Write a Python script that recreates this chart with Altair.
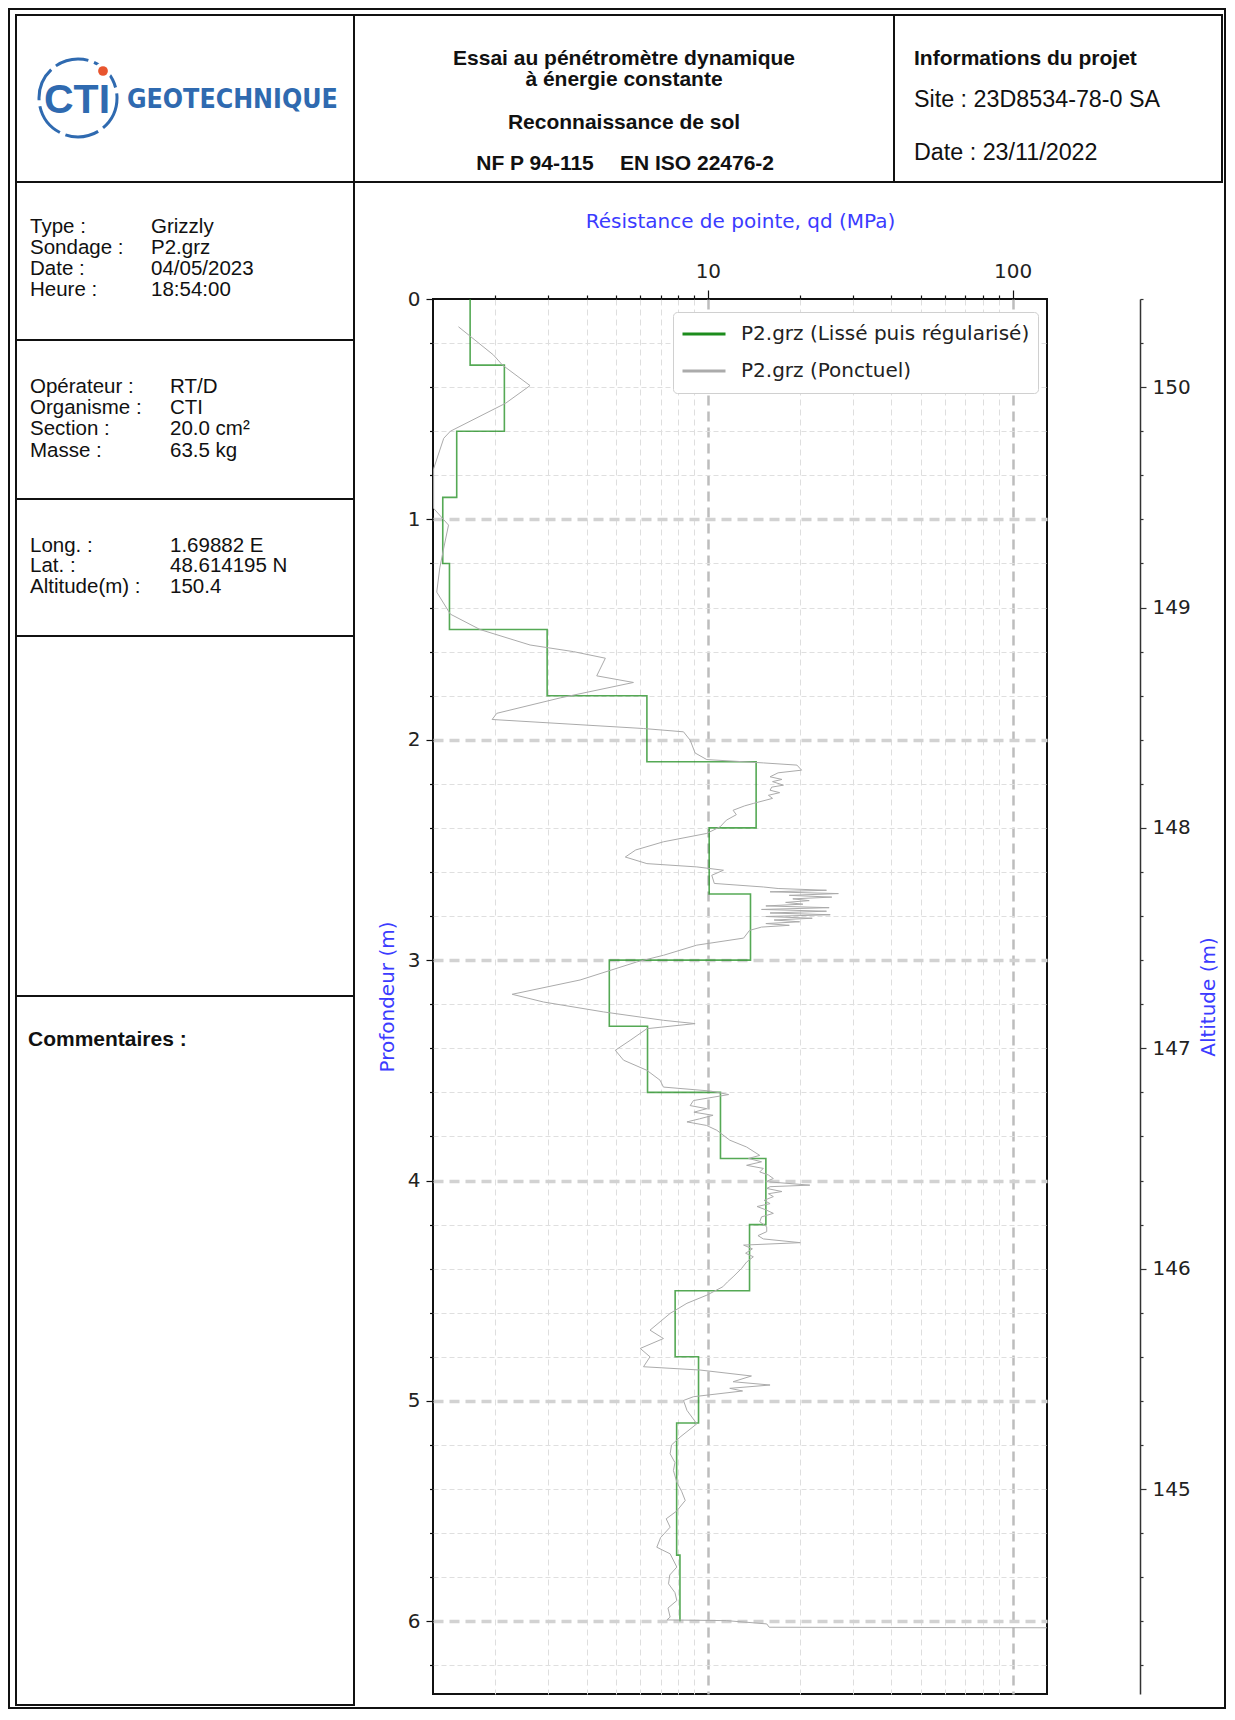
import altair as alt
import pandas as pd

# ------------------------------------------------------------------ data
SERIES_STEP = "P2.grz (Lissé puis régularisé)"
SERIES_PT = "P2.grz (Ponctuel)"

STEP_DEPTHS = [0.0, 0.3, 0.6, 0.9, 1.2, 1.5, 1.8, 2.1, 2.4, 2.7, 3.0, 3.3,
               3.6, 3.9, 4.2, 4.5, 4.8, 5.1, 5.7, 6.0]
STEP_QD = [1.66, 2.15, 1.50, 1.35, 1.42, 2.97, 6.31, 14.4, 10.1, 13.8, 4.75,
           6.34, 11.0, 15.5, 13.7, 7.81, 9.32, 7.9, 8.1]

PT_DEPTH = [0.126, 0.254, 0.300, 0.393, 0.473, 0.600, 0.632, 0.770, 0.950, 1.026,
            1.130, 1.220, 1.330, 1.430, 1.500, 1.570, 1.600, 1.630, 1.710, 1.740,
            1.810, 1.880, 1.908, 1.949, 1.964, 2.002, 2.060, 2.090, 2.105, 2.115,
            2.138, 2.150, 2.168, 2.180, 2.190, 2.206, 2.215, 2.229, 2.240, 2.252,
            2.266, 2.289, 2.300, 2.320, 2.340, 2.365, 2.395, 2.425, 2.463, 2.500,
            2.532, 2.562, 2.577, 2.592, 2.615, 2.652, 2.668, 2.675, 2.683, 2.690,
            2.698, 2.706, 2.714, 2.722, 2.730, 2.738, 2.746, 2.754, 2.762, 2.770,
            2.778, 2.786, 2.794, 2.802, 2.810, 2.818, 2.826, 2.834, 2.842, 2.850,
            2.865, 2.900, 2.932, 2.978, 3.008, 3.090, 3.155, 3.190, 3.235, 3.273,
            3.288, 3.311, 3.364, 3.409, 3.454, 3.500, 3.545, 3.576, 3.594, 3.610,
            3.637, 3.660, 3.674, 3.690, 3.704, 3.720, 3.734, 3.750, 3.772, 3.817,
            3.848, 3.886, 3.900, 3.915, 3.931, 3.945, 3.961, 3.975, 3.991, 4.005,
            4.021, 4.028, 4.036, 4.050, 4.060, 4.073, 4.090, 4.105, 4.118, 4.133,
            4.149, 4.165, 4.187, 4.210, 4.232, 4.250, 4.265, 4.282, 4.293, 4.310,
            4.330, 4.346, 4.370, 4.399, 4.437, 4.460, 4.482, 4.520, 4.557, 4.603,
            4.641, 4.679, 4.717, 4.762, 4.800, 4.845, 4.860, 4.887, 4.913, 4.928,
            4.943, 4.955, 4.981, 4.998, 5.043, 5.104, 5.164, 5.200, 5.240, 5.280,
            5.316, 5.369, 5.410, 5.452, 5.500, 5.535, 5.573, 5.620, 5.664, 5.694,
            5.754, 5.790, 5.830, 5.870, 5.906, 5.940, 5.981, 5.994, 5.997, 6.012,
            6.027, 6.030]
PT_QD = [1.52, 1.98, 2.12, 2.61, 2.17, 1.43, 1.36, 1.26, 1.26, 1.41,
         1.36, 1.32, 1.29, 1.43, 1.79, 2.61, 3.62, 4.61, 4.32, 5.70,
         3.28, 2.03, 1.96, 6.15, 8.32, 8.75, 9.08, 9.92, 15.2, 19.6,
         20.3, 17.0, 16.0, 17.5, 16.3, 17.7, 16.2, 16.0, 17.2, 15.8,
         16.3, 14.1, 13.2, 12.1, 12.4, 11.5, 10.97, 9.92, 7.15, 5.80,
         5.36, 6.31, 9.20, 11.25, 10.3, 10.5, 15.2, 17.0, 24.5, 16.0,
         26.8, 18.5, 25.5, 19.0, 21.5, 18.0, 20.5, 15.5, 25.0, 15.0,
         24.5, 16.0, 25.2, 15.5, 22.0, 16.5, 20.0, 15.5, 18.5, 15.0,
         13.7, 13.1, 9.2, 7.15, 5.85, 3.81, 2.28, 2.89, 4.55, 7.15,
         9.08, 6.31, 5.56, 4.97, 5.29, 6.31, 6.97, 7.15, 10.2, 11.7,
         8.97, 8.75, 9.92, 9.0, 10.4, 9.4, 8.54, 9.9, 10.7, 11.8,
         13.4, 14.8, 13.6, 15.0, 13.4, 15.2, 14.8, 15.8, 16.4, 15.5,
         21.6, 16.0, 15.6, 17.5, 15.8, 16.4, 15.3, 16.0, 14.5, 15.5,
         16.4, 15.0, 14.8, 15.6, 15.6, 14.6, 15.2, 20.1, 13.1, 14.0,
         13.3, 14.1, 13.4, 12.9, 12.1, 11.6, 11.2, 9.93, 8.54, 7.52,
         6.97, 6.46, 7.15, 6.00, 6.46, 6.15, 9.43, 13.9, 12.1, 16.0,
         11.8, 13.0, 8.97, 8.32, 8.54, 9.2, 8.11, 7.6, 7.52, 7.8,
         7.71, 7.91, 8.2, 8.43, 7.9, 7.3, 7.52, 7.0, 6.80, 7.52,
         7.91, 7.5, 7.43, 7.8, 7.91, 7.4, 7.52, 7.34, 11.5, 15.6,
         15.9, 200.0]

ALT_TOP = 150.4
DEPTH_MAX = 6.33
QD_DOMAIN = [1.254, 129.6]

X_TICKS = [2, 3, 4, 5, 6, 7, 8, 9, 10, 20, 30, 40, 50, 60, 70, 80, 90, 100]
DEPTH_TICKS = [round(0.2 * i, 1) for i in range(32)]
ALT_TICKS = [round(144.2 + 0.2 * i, 1) for i in range(32)]

INFO_1 = [("Type :", "Grizzly"), ("Sondage :", "P2.grz"),
          ("Date :", "04/05/2023"), ("Heure :", "18:54:00")]
INFO_2 = [("Opérateur :", "RT/D"), ("Organisme :", "CTI"),
          ("Section :", "20.0 cm²"), ("Masse :", "63.5 kg")]
INFO_3 = [("Long. :", "1.69882 E"), ("Lat. :", "48.614195 N"),
          ("Altitude(m) :", "150.4")]

# ------------------------------------------------------------------ tables
step_rows = []
for i, v in enumerate(STEP_QD):
    step_rows.append({"depth": STEP_DEPTHS[i], "qd": v, "i": 2 * i, "series": SERIES_STEP})
    step_rows.append({"depth": STEP_DEPTHS[i + 1], "qd": v, "i": 2 * i + 1, "series": SERIES_STEP})
step_df = pd.DataFrame(step_rows)
pt_df = pd.DataFrame({"depth": PT_DEPTH, "qd": PT_QD, "i": list(range(len(PT_DEPTH))),
                      "series": SERIES_PT})
alt_df = pd.DataFrame({"altitude": [ALT_TOP - DEPTH_MAX, ALT_TOP]})
DUMMY = pd.DataFrame({"k": [0]})

# ------------------------------------------------------------------ styles
BLUE = "#3b3bff"
DJ = "DejaVu Sans"
LS = "Liberation Sans"
PAGE_MARGIN = 8
OX, OY = 433, 299          # page position of the plot origin
W, H = 614, 1395
SVG_W, SVG_H = 1219, 1702
PAD = {"left": OX - PAGE_MARGIN, "top": OY - PAGE_MARGIN,
       "right": SVG_W - (OX - PAGE_MARGIN) - W,
       "bottom": SVG_H - (OY - PAGE_MARGIN) - H}

XMAJ = "datum.value == 10 || datum.value == 100"
YMAJ = "abs(datum.value - round(datum.value)) < 0.01"

color_scale = alt.Scale(domain=[SERIES_STEP, SERIES_PT], range=["#1c8c1c", "#ababab"])
x_scale = alt.Scale(type="log", domain=QD_DOMAIN, nice=False)
y_scale = alt.Scale(domain=[0, DEPTH_MAX], reverse=True, nice=False, zero=False)

x_axis = alt.Axis(
    orient="top", values=X_TICKS, format="d",
    labelExpr=f"({XMAJ}) ? datum.label : ''", labelOverlap=False, labelFlush=False,
    title="Résistance de pointe, qd (MPa)", titleColor=BLUE, titleFont=DJ,
    titleFontSize=20, titleFontWeight="normal", titlePadding=30,
    labelFont=DJ, labelFontSize=20, labelColor="#222", labelPadding=9,
    domain=False, tickColor="#111", tickWidth=1.2,
    tickSize={"condition": {"test": XMAJ, "value": 9}, "value": 4},
    grid=True,
    gridColor={"condition": {"test": XMAJ, "value": "#bdbdbd"}, "value": "#dedede"},
    gridDash={"condition": {"test": XMAJ, "value": [10, 6]}, "value": [6, 4]},
    gridWidth={"condition": {"test": XMAJ, "value": 2.5}, "value": 1},
)
y_axis = alt.Axis(
    orient="left", values=DEPTH_TICKS,
    labelExpr=f"({YMAJ}) ? format(datum.value, 'd') : ''", labelOverlap=False,
    labelFlush=False,
    title="Profondeur (m)", titleColor=BLUE, titleFont=DJ, titleFontSize=20,
    titleFontWeight="normal", titlePadding=10,
    labelFont=DJ, labelFontSize=20, labelColor="#222", labelPadding=6,
    domain=False, tickColor="#111", tickWidth=1.2,
    tickSize={"condition": {"test": YMAJ, "value": 7}, "value": 3.5},
    grid=True,
    gridOpacity={"condition": {"test": "datum.value == 0", "value": 0}, "value": 1},
    gridColor={"condition": {"test": YMAJ, "value": "#d2d2d2"}, "value": "#dfdfdf"},
    gridDash={"condition": {"test": YMAJ, "value": [10, 6]}, "value": [5, 3]},
    gridWidth={"condition": {"test": YMAJ, "value": 3.5}, "value": 1},
)
a_axis = alt.Axis(
    orient="right", offset=93, values=ALT_TICKS,
    labelExpr=f"({YMAJ}) ? format(datum.value, 'd') : ''", labelOverlap=False,
    labelFlush=False,
    title="Altitude (m)", titleAngle=270, titleBaseline="top", titleColor=BLUE,
    titleFont=DJ, titleFontSize=20, titleFontWeight="normal", titlePadding=8,
    labelFont=DJ, labelFontSize=20, labelColor="#222", labelPadding=6,
    domain=True, domainColor="#333", domainWidth=1.5,
    tickColor="#333", tickWidth=1.2,
    tickSize={"condition": {"test": YMAJ, "value": 6}, "value": 3},
    grid=False,
)

legend = alt.Legend(
    orient="none", legendX=240, legendY=13, title=None,
    symbolType="stroke", symbolSize=1849, symbolStrokeWidth=3, symbolOpacity=1,
    labelFont=DJ, labelFontSize=20, labelColor="#222", labelOffset=14, labelLimit=500,
    padding=8, rowPadding=9, clipHeight=28,
    strokeColor="#d0d0d0", fillColor="white", cornerRadius=4,
)

# ------------------------------------------------------------------ plot layers
step_line = alt.Chart(step_df).mark_line(strokeWidth=1.6, opacity=0.75, clip=True).encode(
    x=alt.X("qd:Q", scale=x_scale, axis=x_axis),
    y=alt.Y("depth:Q", scale=y_scale, axis=y_axis),
    color=alt.Color("series:N", scale=color_scale, legend=legend),
    order=alt.Order("i:Q"),
)
pt_line = alt.Chart(pt_df).mark_line(strokeWidth=1, clip=True).encode(
    x=alt.X("qd:Q", scale=x_scale),
    y=alt.Y("depth:Q", scale=y_scale),
    color=alt.Color("series:N", scale=color_scale, legend=legend),
    order=alt.Order("i:Q"),
)
main = alt.layer(step_line, pt_line)

alt_layer = alt.Chart(alt_df).mark_point(opacity=0).encode(
    y=alt.Y("altitude:Q", scale=alt.Scale(domain=[ALT_TOP - DEPTH_MAX, ALT_TOP],
                                          nice=False, zero=False), axis=a_axis)
)

# ------------------------------------------------------------------ page decoration
def box(x0, y0, x1, y1, sw=2):
    return alt.Chart(DUMMY).mark_rect(filled=False, stroke="#111", strokeWidth=sw).encode(
        x=alt.value(x0 - OX), x2=alt.value(x1 - OX),
        y=alt.value(y0 - OY), y2=alt.value(y1 - OY))


def txt(s, x, y, size=20, bold=False, align="left", color="#111", font=LS):
    return alt.Chart(DUMMY).mark_text(
        text=s, font=font, fontSize=size, fontWeight="bold" if bold else "normal",
        align=align, baseline="middle", color=color).encode(
        x=alt.value(x - OX), y=alt.value(y - OY))


deco = [
    box(9, 9, 1225, 1708, 2),
    box(16, 15, 354, 182), box(354, 15, 894, 182), box(894, 15, 1222, 182),
    box(16, 182, 354, 340), box(16, 340, 354, 499), box(16, 499, 354, 636),
    box(16, 636, 354, 996), box(16, 996, 354, 1705),
]

LOGO = "#2f6ab0"
deco += [
    alt.Chart(DUMMY).mark_point(shape="circle", size=6084, stroke=LOGO, strokeWidth=3,
                                strokeDash=[34, 6], filled=False, opacity=1).encode(
        x=alt.value(78 - OX), y=alt.value(98 - OY)),
    alt.Chart(DUMMY).mark_point(shape="circle", size=300, fill="white", filled=True,
                                opacity=1).encode(x=alt.value(103 - OX), y=alt.value(71 - OY)),
    alt.Chart(DUMMY).mark_point(shape="circle", size=95, fill="#e8552e", filled=True,
                                opacity=1).encode(x=alt.value(103 - OX), y=alt.value(71 - OY)),
    txt("CTI", 77, 101, size=41, bold=True, align="center", color=LOGO),
    txt("GEOTECHNIQUE", 127, 100, size=26.5, bold=True, color=LOGO,
        font="Liberation Sans Narrow, DejaVu Sans Condensed, sans-serif"),
]

deco += [
    txt("Essai au pénétromètre dynamique", 624, 59, 21, True, "center"),
    txt("à énergie constante", 624, 80, 21, True, "center"),
    txt("Reconnaissance de sol", 624, 123, 21, True, "center"),
    txt("NF P 94-115", 535, 164, 21, True, "center"),
    txt("EN ISO 22476-2", 697, 164, 21, True, "center"),
    txt("Informations du projet", 914, 59, 21, True),
    txt("Site : 23D8534-78-0 SA", 914, 100, 23.3),
    txt("Date : 23/11/2022", 914, 153, 23.3),
    txt("Commentaires :", 28, 1040, 21, True),
]
for k, (lab, val) in enumerate(INFO_1):
    deco += [txt(lab, 30, 227 + 21 * k, 20.5), txt(val, 151, 227 + 21 * k, 20.5)]
for k, (lab, val) in enumerate(INFO_2):
    deco += [txt(lab, 30, 387 + 21.2 * k, 20.5), txt(val, 170, 387 + 21.2 * k, 20.5)]
for k, (lab, val) in enumerate(INFO_3):
    deco += [txt(lab, 30, 546 + 20.3 * k, 20.5), txt(val, 170, 546 + 20.3 * k, 20.5)]

chart = alt.layer(main, alt_layer, *deco).resolve_scale(y="independent").properties(
    width=W, height=H, padding=PAD, autosize=alt.AutoSizeParams(type="none"),
    background="white"
).configure_view(stroke="#111", strokeWidth=2)

chart.save("out.html", embed_options={"renderer": "svg", "actions": False})
